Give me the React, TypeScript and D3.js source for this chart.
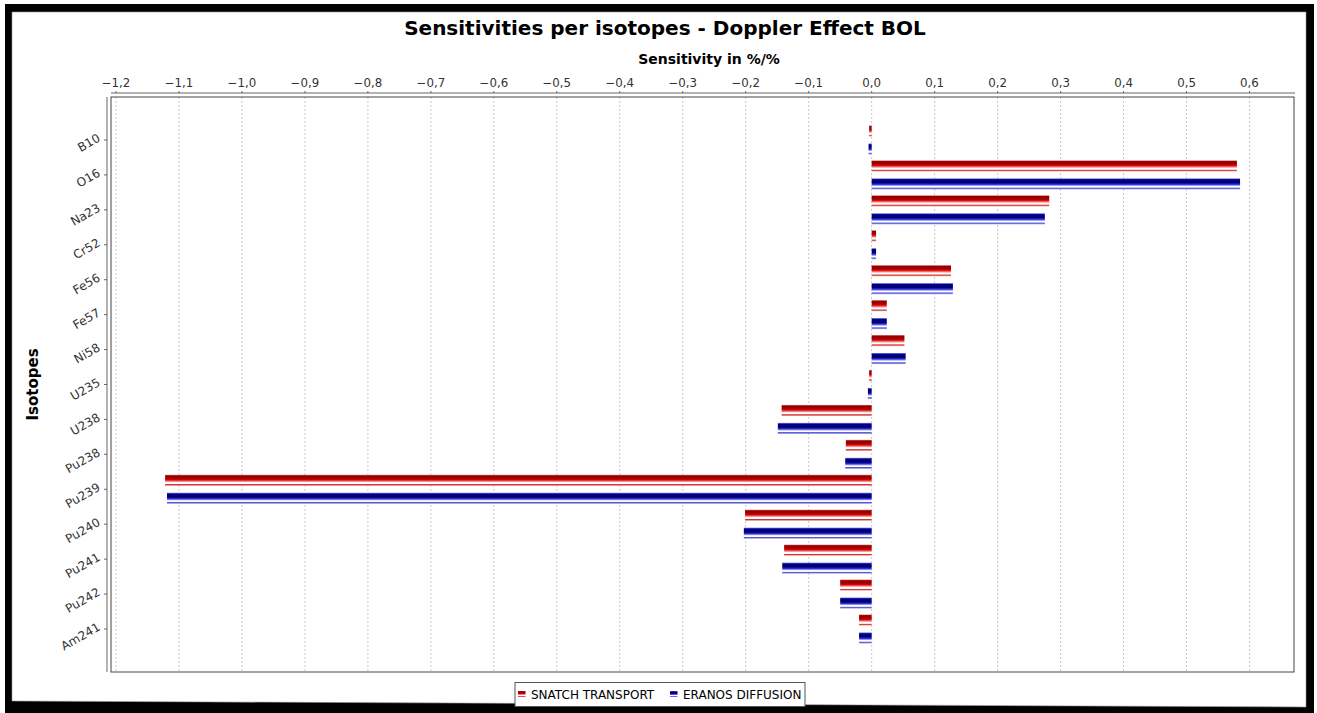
import React from 'react';
import * as d3 from 'd3';

const categories = ['B10', 'O16', 'Na23', 'Cr52', 'Fe56', 'Fe57', 'Ni58', 'U235', 'U238', 'Pu238', 'Pu239', 'Pu240', 'Pu241', 'Pu242', 'Am241'];
const snatchTransport = [-0.004, 0.58, 0.282, 0.007, 0.126, 0.024, 0.052, -0.004, -0.143, -0.041, -1.122, -0.201, -0.139, -0.05, -0.02];
const eranosDiffusion = [-0.005, 0.585, 0.275, 0.007, 0.129, 0.024, 0.054, -0.006, -0.149, -0.042, -1.119, -0.203, -0.142, -0.05, -0.02];
const seriesNames = ['SNATCH TRANSPORT', 'ERANOS DIFFUSION'];
const tickValues = [-1.2, -1.1, -1.0, -0.9, -0.8, -0.7, -0.6, -0.5, -0.4, -0.3, -0.2, -0.1, 0.0, 0.1, 0.2, 0.3, 0.4, 0.5, 0.6];

const W = 1317;
const H = 713;
const plot = { left: 111, right: 1294, top: 97, bottom: 672 };
const FONT = '"DejaVu Sans", Verdana, sans-serif';

const fmt = (v: number) => d3.format('.1f')(v).replace('.', ',').replace('-', '\u2212');

const App = () => {
  // -1,2 sits at x=116 and 0,6 at x=1249.5 in the picture
  const x = d3.scaleLinear().domain([-1.2, 0.6]).range([116, 1249.5]);
  const y = d3.scalePoint<string>().domain(categories).range([plot.top, plot.bottom]).padding(1.231);
  const sub = d3.scaleBand<string>().domain(seriesNames).range([-14.5, 14.5]).paddingInner(0.38);
  const seriesValues = [snatchTransport, eranosDiffusion];
  const gradIds = ['gradRed', 'gradBlue'];

  return (
    <div style={{ position: 'fixed', left: 0, top: 0 }}>
      <svg width={W} height={H} style={{ display: 'block' }}>
        <defs>
          <linearGradient id="gradRed" x1="0" y1="0" x2="0" y2="1">
            <stop offset="0" stopColor="#e07070" />
            <stop offset="0.1" stopColor="#900000" />
            <stop offset="0.3" stopColor="#a00000" />
            <stop offset="0.45" stopColor="#dd0000" />
            <stop offset="0.6" stopColor="#f08888" />
            <stop offset="0.7" stopColor="#ffffff" />
            <stop offset="0.8" stopColor="#ffffff" />
            <stop offset="0.88" stopColor="#d03030" />
            <stop offset="1" stopColor="#f0a8a8" />
          </linearGradient>
          <linearGradient id="gradBlue" x1="0" y1="0" x2="0" y2="1">
            <stop offset="0" stopColor="#8888e0" />
            <stop offset="0.12" stopColor="#000090" />
            <stop offset="0.4" stopColor="#000070" />
            <stop offset="0.55" stopColor="#3030e0" />
            <stop offset="0.66" stopColor="#a8a8f0" />
            <stop offset="0.72" stopColor="#ffffff" />
            <stop offset="0.8" stopColor="#ffffff" />
            <stop offset="0.88" stopColor="#5050d0" />
            <stop offset="1" stopColor="#a8a8e8" />
          </linearGradient>
        </defs>

        {/* black picture frame */}
        <rect x={0} y={0} width={W} height={H} fill="#fff" />
        <rect x={5} y={4} width={1309} height={709} fill="#000" />
        <polygon points="12,12 1306,12 1306,707 12,701" fill="#fff" stroke="#999" strokeWidth={0.6} />

        {/* title */}
        <text x={665} y={35} textAnchor="middle" fontFamily={FONT} fontWeight="bold" fontSize={20} fill="#000">
          Sensitivities per isotopes - Doppler Effect BOL
        </text>

        {/* gridlines */}
        {tickValues.map((t) => (
          <line key={'g' + t} x1={x(t)} x2={x(t)} y1={plot.top} y2={plot.bottom} stroke="#c8c8c8" strokeWidth={1} strokeDasharray="2,2" />
        ))}

        {/* plot outline */}
        <rect x={plot.left} y={plot.top} width={plot.right - plot.left} height={plot.bottom - plot.top} fill="none" stroke="#444" strokeWidth={1} />

        {/* bars */}
        {categories.map((c, i) =>
          seriesNames.map((s, k) => {
            const v = seriesValues[k][i];
            const x0 = x(Math.min(0, v));
            const x1 = x(Math.max(0, v));
            return (
              <rect
                key={c + s}
                x={x0}
                y={(y(c) as number) + (sub(s) as number)}
                width={Math.max(1, x1 - x0)}
                height={sub.bandwidth()}
                fill={`url(#${gradIds[k]})`}
              />
            );
          })
        )}

        {/* top axis */}
        <line x1={plot.left} x2={plot.right + 1} y1={93} y2={93} stroke="#666" strokeWidth={1} />
        {tickValues.map((t) => (
          <g key={'t' + t}>
            <line x1={x(t)} x2={x(t)} y1={91} y2={93} stroke="#666" />
            <text x={x(t)} y={87} textAnchor="middle" fontFamily={FONT} fontSize={11.8} fill="#333">
              {fmt(t)}
            </text>
          </g>
        ))}
        <text x={709} y={64} textAnchor="middle" fontFamily={FONT} fontWeight="bold" fontSize={14} fill="#000">
          Sensitivity in %/%
        </text>

        {/* left axis */}
        <line x1={107} x2={107} y1={plot.top} y2={plot.bottom} stroke="#666" strokeWidth={1} />
        {categories.map((c) => (
          <g key={'c' + c}>
            <line x1={104} x2={107} y1={y(c)} y2={y(c)} stroke="#666" />
            <text
              transform={`translate(99,${(y(c) as number) - 3}) rotate(-30)`}
              textAnchor="end"
              dominantBaseline="central"
              fontFamily={FONT}
              fontSize={12}
              fill="#333"
            >
              {c}
            </text>
          </g>
        ))}
        <text
          transform={`translate(38,${(plot.top + plot.bottom) / 2}) rotate(-90)`}
          textAnchor="middle"
          fontFamily={FONT}
          fontWeight="bold"
          fontSize={15}
          fill="#000"
        >
          Isotopes
        </text>

        {/* legend */}
        <rect x={515} y={682.5} width={290} height={24} fill="#fff" stroke="#555" strokeWidth={1} />
        {seriesNames.map((s, k) => {
          const lx = k === 0 ? 518 : 670;
          return (
            <g key={'l' + s}>
              <rect x={lx} y={691} width={7.5} height={6} fill={`url(#${gradIds[k]})`} />
              <text x={lx + 13} y={699} fontFamily={FONT} fontSize={12} fill="#000">
                {s}
              </text>
            </g>
          );
        })}
      </svg>
    </div>
  );
};

export default App;
